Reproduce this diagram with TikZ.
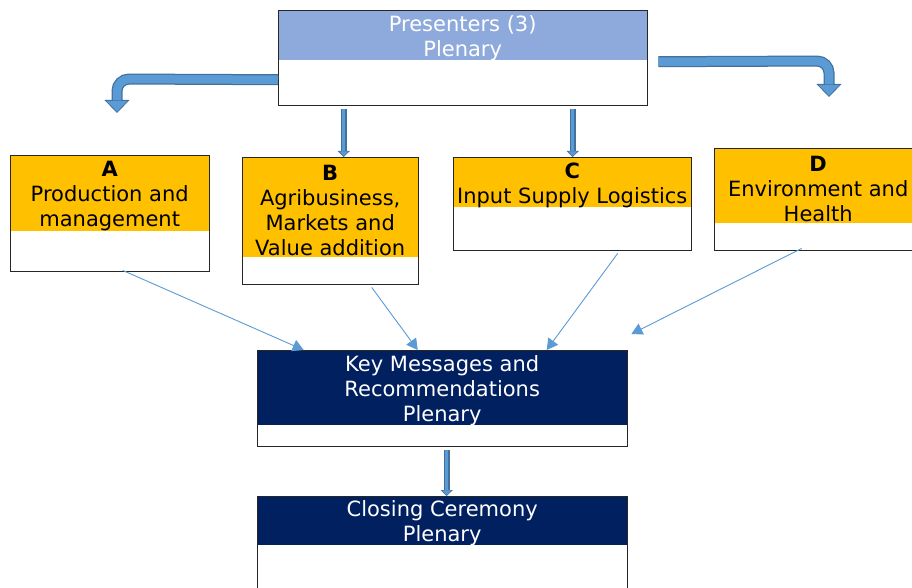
\documentclass[tikz,border=0pt]{standalone}
\usepackage{fontspec}
\setmainfont{DejaVu Sans}
\usetikzlibrary{arrows.meta,calc}
\definecolor{amber}{HTML}{FFC000}
\definecolor{navy}{HTML}{002060}
\definecolor{paleblue}{HTML}{8EA9DB}
\definecolor{arrowfill}{HTML}{5B9BD5}
\definecolor{arrowedge}{HTML}{41719C}
\tikzset{
  frame/.style={draw=black!85, line width=1.4pt, anchor=north west, inner sep=0pt},
  head/.style={anchor=north west, inner sep=0pt},
  headtext/.style={align=center, inner sep=0pt, yshift=-3pt, font=\fontsize{21}{25}\selectfont},
  blockarrow/.style={draw=arrowedge, line width=11pt, rounded corners=12pt,
    -{Triangle[width=25pt,length=13pt,fill=arrowfill,line width=0.8pt]},
    postaction={draw=arrowfill, line width=8.5pt, -, shorten >=12.5pt}},
  narrowarrow/.style={draw=arrowedge, line width=6pt,
    -{Triangle[width=12pt,length=6pt,fill=arrowfill,line width=0.6pt]},
    postaction={draw=arrowfill, line width=3.5pt, -, shorten >=6pt}},
  link/.style={draw=arrowfill, line width=0.9pt, -{Triangle[width=12pt,length=11pt]}}
}
\begin{document}
\begin{tikzpicture}[x=1pt,y=-1pt]
  \useasboundingbox[fill=white] (0,0) rectangle (912,588);

  % top plenary
  \node[head, fill=paleblue, minimum width=369pt, minimum height=50pt,
    label={[headtext,text=white]center:{Presenters (3)\\Plenary}}] (presHead) at (278,10) {};
  \node[frame, minimum width=369pt, minimum height=95pt] (pres) at (278,10) {};

  % breakout sessions
  \node[head, fill=amber, minimum width=199pt, minimum height=76pt,
    label={[headtext]center:{\textbf{A}\\Production and\\management}}] (headA) at (10,155) {};
  \node[frame, minimum width=199pt, minimum height=116pt] (boxA) at (10,155) {};

  \node[head, fill=amber, minimum width=176pt, minimum height=100pt,
    label={[headtext]center:{\textbf{B}\\Agribusiness,\\Markets and\\Value addition}}] (headB) at (242,157) {};
  \node[frame, minimum width=176pt, minimum height=127pt] (boxB) at (242,157) {};

  \node[head, fill=amber, minimum width=238pt, minimum height=50pt,
    label={[headtext]center:{\textbf{C}\\Input Supply Logistics}}] (headC) at (453,157) {};
  \node[frame, minimum width=238pt, minimum height=93pt] (boxC) at (453,157) {};

  \node[head, fill=amber, minimum width=208pt, minimum height=75pt,
    label={[headtext]center:{\textbf{D}\\Environment and\\Health}}] (headD) at (714,148) {};
  \node[frame, minimum width=208pt, minimum height=102pt] (boxD) at (714,148) {};

  % closing plenaries
  \node[head, fill=navy, minimum width=370pt, minimum height=75pt,
    label={[headtext,text=white]center:{Key Messages and\\Recommendations\\Plenary}}] (keyHead) at (257,350) {};
  \node[frame, minimum width=370pt, minimum height=96pt] (key) at (257,350) {};

  \node[head, fill=navy, minimum width=370pt, minimum height=49pt,
    label={[headtext,text=white]center:{Closing Ceremony\\Plenary}}] (closeHead) at (257,496) {};
  \node[frame, minimum width=370pt, minimum height=110pt] (close) at (257,496) {};

  % arrows
  \coordinate (leftTip) at (117,113);
  \coordinate (rightTip) at (829,97);
  \draw[blockarrow] ($(pres.west)+(0,21.5)$) -- (117,79) -- (leftTip);
  \draw[blockarrow] ($(pres.east)+(10,3.5)$) -- (829,61) -- (rightTip);
  \draw[narrowarrow] ($(pres.south)+(-119.5,3)$) -- ($(boxB.north)+(13,0)$);
  \draw[narrowarrow] ($(pres.south)+(109.5,3)$) -- (boxC.north);
  \draw[narrowarrow] ($(key.south)+(4,3)$) -- ($(close.north)+(4,0)$);

  \draw[link] ($(boxA.south)+(12.5,-2)$) -- ($(key.north)+(-139,0)$);
  \draw[link] ($(boxB.south)+(41,2)$) -- ($(key.north)+(-25,0)$);
  \draw[link] ($(boxC.south)+(45,2)$) -- ($(key.north)+(104,0)$);
  \draw[link] ($(boxD.south)+(-17,-3)$) -- ($(key.north east)+(3,-16)$);
\end{tikzpicture}
\end{document}
